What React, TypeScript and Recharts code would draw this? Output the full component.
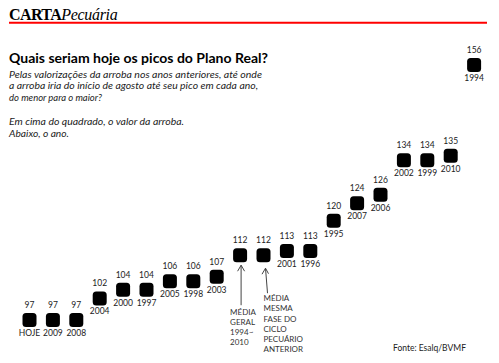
import React from 'react';
import { ScatterChart, Scatter, XAxis, YAxis } from 'recharts';

// Preço da arroba (R$) em cada pico, do menor para o maior
const years = ['HOJE', '2009', '2008', '2004', '2000', '1997', '2005', '1998', '2003', '', '', '2001', '1996', '1995', '2007', '2006', '2002', '1999', '2010', '1994'];
const prices = [97, 97, 97, 102, 104, 104, 106, 106, 107, 112, 112, 113, 113, 120, 124, 126, 134, 134, 135, 156];

const noteGeral = ['MÉDIA', 'GERAL', '1994~', '2010'];
const noteFase = ['MÉDIA', 'MESMA', 'FASE DO', 'CICLO', 'PECUÁRIO', 'ANTERIOR'];

const subtitle = [
  'Pelas valorizações  da arroba  nos anos anteriores,  até onde',
  'a arroba iria do início de agosto até seu pico em cada ano,',
  'do menor para o maior?',
  '',
  'Em cima do quadrado, o valor da arroba.',
  'Abaixo, o ano.',
];
const subtitleWidths = [253, 249, 93, 0, 175, 60];

const data = prices.map((p, i) => ({ x: i, y: p, year: years[i] }));

const FONT = 'Lato, "Open Sans", sans-serif';

const PeakMark = (props: any) => {
  const { cx, cy, payload } = props;
  const i = payload.x;
  return (
    <g>
      <text x={cx} y={cy - 12} textAnchor="middle" fontSize={8.5} fill="#222" fontFamily={FONT}>
        {payload.y}
      </text>
      <rect x={cx - 7} y={cy - 7} width={14} height={14} rx={3.5} fill="#000" />
      {payload.year && (
        <text x={cx} y={cy + 16} textAnchor="middle" fontSize={8.5} fill="#222" fontFamily={FONT}>
          {payload.year}
        </text>
      )}
      {i === 9 && (
        <g>
          <line x1={cx + 1} y1={cy + 10} x2={cx + 1} y2={cy + 50} stroke="#444" strokeWidth={1} />
          <polyline points={`${cx - 2.5},${cy + 16} ${cx + 1},${cy + 10} ${cx + 4.5},${cy + 16}`} fill="none" stroke="#444" strokeWidth={1} />
          {noteGeral.map((t, k) => (
            <text key={k} x={cx - 10} y={cy + 60 + k * 10} fontSize={8} fill="#333" fontFamily={FONT}>{t}</text>
          ))}
        </g>
      )}
      {i === 10 && (
        <g>
          <line x1={cx + 2} y1={cy + 13} x2={cx + 4} y2={cy + 38} stroke="#444" strokeWidth={1} />
          <polyline points={`${cx - 1.5},${cy + 19} ${cx + 2},${cy + 13} ${cx + 5},${cy + 18.5}`} fill="none" stroke="#444" strokeWidth={1} />
          {noteFase.map((t, k) => (
            <text key={k} x={cx} y={cy + 46 + k * 10.2} fontSize={8} fill="#333" fontFamily={FONT}>{t}</text>
          ))}
        </g>
      )}
    </g>
  );
};

export default function App() {
  return (
    <div style={{ position: 'absolute', left: 0, top: 0, width: 499, height: 363, background: '#fff' }}>
      <svg width={499} height={363} style={{ position: 'absolute', left: 0, top: 0 }}>
        <text x={9} y={20} fontFamily='"Liberation Serif", serif' fontSize={16} fill="#000">
          <tspan fontWeight="bold" letterSpacing={-0.6}>CARTA</tspan>
          <tspan fontStyle="italic" letterSpacing={-0.3}>Pecuária</tspan>
        </text>
        <line x1={9} y1={22.8} x2={487} y2={22.8} stroke="#ff0000" strokeWidth={2} />
        <text x={9} y={63} fontFamily={FONT} fontWeight="bold" fontSize={13.5} fill="#000" textLength={259} lengthAdjust="spacingAndGlyphs">
          Quais seriam hoje os picos do Plano Real?
        </text>
        {subtitle.map((t, k) =>
          t ? (
            <text key={k} x={9} y={77.5 + k * 11.8} fontFamily={FONT} fontStyle="italic" fontSize={9.2} fill="#222" textLength={subtitleWidths[k]} lengthAdjust="spacingAndGlyphs">
              {t}
            </text>
          ) : null
        )}
        <text x={393} y={351} fontFamily={FONT} fontSize={8.5} fill="#222">Fonte: Esalq/BVMF</text>
      </svg>
      <div style={{ position: 'absolute', left: 0, top: 0 }}>
        <ScatterChart width={499} height={363} margin={{ top: 0, right: 0, bottom: 0, left: 0 }}>
          <XAxis type="number" dataKey="x" domain={[-1.2607, 20.064]} hide />
          <YAxis type="number" dataKey="y" domain={[87.05, 171.07]} hide />
          <Scatter data={data} shape={<PeakMark />} isAnimationActive={false} />
        </ScatterChart>
      </div>
    </div>
  );
}
